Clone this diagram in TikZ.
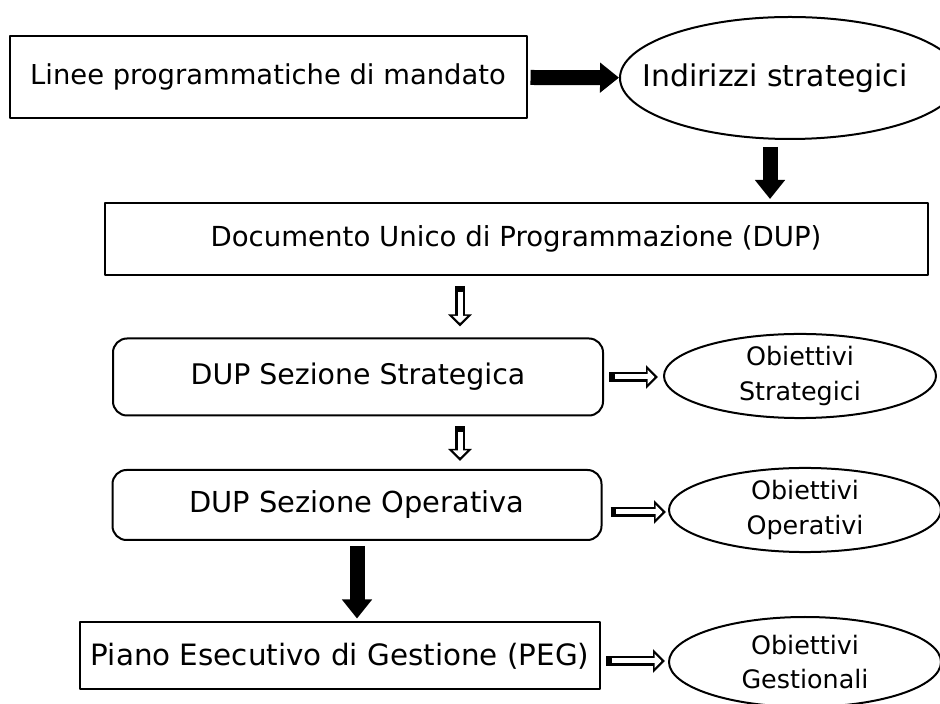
\documentclass[tikz,border=0pt]{standalone}
\usepackage{fontspec}
\setmainfont{DejaVu Sans}
\usetikzlibrary{arrows.meta,shapes.geometric}

\begin{document}
\begin{tikzpicture}[line join=bevel,
  box/.style={draw,line width=2bp,inner sep=0pt},
  roundbox/.style={box,rounded corners=14bp},
  oval/.style={draw,ellipse,line width=2bp,inner sep=0pt,align=center,font=\fontsize{25.5}{35}\selectfont},
  fatarrow/.style={line width=15bp,-{Triangle[length=19bp,width=29bp]}},
  hollowarrow/.style={white,line width=5bp,{Bar[width=0bp,length=0bp,sep=2bp]}-{Triangle[length=7bp,width=14bp,sep=3.5bp]},
    preaction={draw=black,line width=10bp,-{Triangle[length=12bp,width=23bp]}}}]
%%
  \path[use as bounding box] (0bp,0bp) rectangle (940bp,704bp);
  \node (linee) at (268bp,627bp) [box,minimum width=517bp,minimum height=82bp,font=\fontsize{27.5}{32}\selectfont] {Linee programmatiche di mandato};
  \node (indirizzi) at (790bp,626bp) [oval,minimum width=340bp,minimum height=122bp,font=\fontsize{30}{35}\selectfont] {\hspace*{-30bp}Indirizzi strategici};
  \node (dup) at (516bp,465bp) [box,minimum width=823bp,minimum height=72bp,font=\fontsize{27.7}{32}\selectfont] {Documento Unico di Programmazione (DUP)};
  \node (strat) at (358bp,327bp) [roundbox,minimum width=490bp,minimum height=77bp,font=\fontsize{28.5}{32}\selectfont] {DUP Sezione Strategica};
  \node (obstrat) at (800bp,328bp) [oval,minimum width=272bp,minimum height=84bp] {Obiettivi\\Strategici};
  \node (oper) at (357bp,199bp) [roundbox,minimum width=489bp,minimum height=70bp,font=\fontsize{29}{32}\selectfont] {DUP Sezione Operativa};
  \node (oboper) at (805bp,194bp) [oval,minimum width=272bp,minimum height=84bp] {Obiettivi\\Operativi};
  \node (peg) at (340bp,48bp) [box,minimum width=520bp,minimum height=67bp,font=\fontsize{29.5}{32}\selectfont] {Piano Esecutivo di Gestione (PEG)};
  \node (obgest) at (805bp,42bp) [oval,minimum width=272bp,minimum height=90bp] {Obiettivi\\Gestionali};
  \draw [fatarrow,shorten <=3bp] (linee) -- (indirizzi);
  \draw [fatarrow,shorten <=7bp,shorten >=3bp] ([xshift=-20bp]indirizzi.south) -- ([xshift=-20bp]indirizzi.south |- dup.north);
  \draw [hollowarrow,shorten <=10bp,shorten >=11bp] ([xshift=-56bp]dup.south) -- ([xshift=-56bp]dup.south |- strat.north);
  \draw [hollowarrow,shorten <=5bp,shorten >=5bp] (strat) -- (strat -| obstrat.west);
  \draw [hollowarrow,shorten <=10bp,shorten >=8bp] ([xshift=102bp]strat.south) -- ([xshift=102bp]strat.south |- oper.north);
  \draw [hollowarrow,shorten <=8bp,shorten >=2bp] ([yshift=-7bp]oper.east) -- ([yshift=-7bp]oper.east -| oboper.west);
  \draw [fatarrow,shorten <=5bp,shorten >=3bp] (oper.south) -- (oper.south |- peg.north);
  \draw [hollowarrow,shorten <=5bp,shorten >=3bp] ([yshift=-5bp]peg.east) -- ([yshift=-5bp]peg.east -| obgest.west);
%
\end{tikzpicture}
\end{document}
